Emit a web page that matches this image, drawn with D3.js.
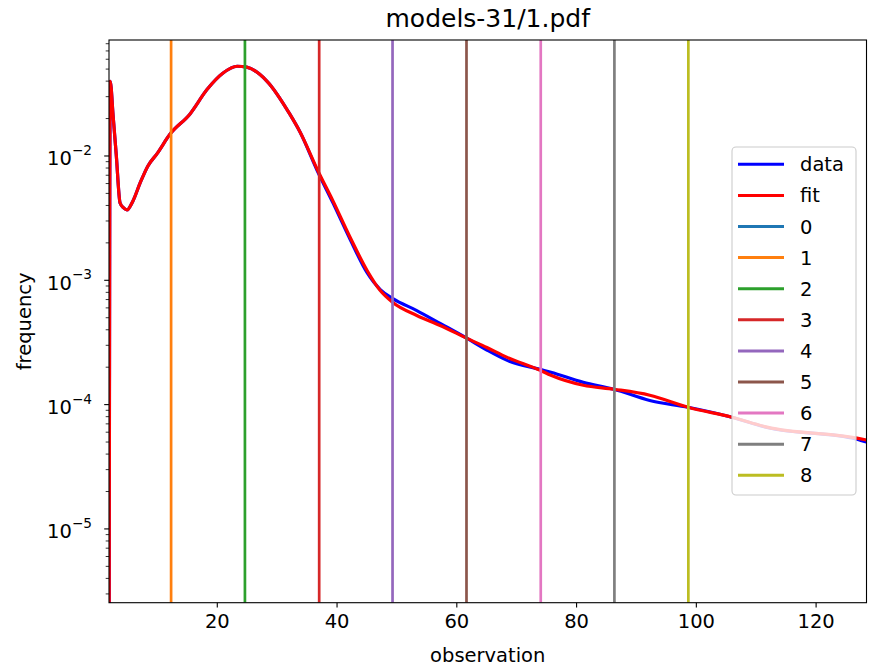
<!DOCTYPE html>
<html lang="en">
<head>
  <meta charset="UTF-8">
  <title>models-31/1.pdf</title>
  <style>
    body { margin: 0; background: #fff; }
    text { font-family: "DejaVu Sans", sans-serif; fill: #000; }
  </style>
</head>
<body>
  <script src="https://cdn.jsdelivr.net/npm/d3@7/dist/d3.min.js"></script>
  <script>
    // observation grid and the two curves
    var observation = [2.0, 2.2, 2.7, 3.2, 3.85, 4.45, 5.0, 6.0, 7.2, 8.5, 10.0, 12.2, 15.5, 18.4, 21.0, 23.4,
      25.0, 28.4, 32.2, 33.9, 36.9, 39.4, 42.3, 45.1, 47.3, 49.4, 53.4, 57.3, 61.8, 65.1, 68.5,
      74.0, 75.8, 81.2, 86.3, 92.3, 98.7, 106.0, 111.9, 126.9, 128.5];
    var dataValues = [1e-7, 0.0399, 0.0206, 0.0104, 0.00419, 0.00382, 0.00368, 0.00435, 0.00607, 0.00832, 0.0104,
      0.0150, 0.0217, 0.0344, 0.0463, 0.0527, 0.0518, 0.0399, 0.0217, 0.0156, 0.00740, 0.00420, 0.00212,
      0.00115, 0.000841, 0.000713, 0.000571, 0.000450, 0.000341, 0.000275, 0.000227,
      0.000192, 0.000182, 0.000151, 0.000133, 0.000108, 0.0000952, 0.0000792, 0.0000655, 0.0000528, 0.0000500];
    var fitValues = [1e-7, 0.0399, 0.0206, 0.0104, 0.00419, 0.00382, 0.00368, 0.00435, 0.00607, 0.00832, 0.0104,
      0.0150, 0.0217, 0.0344, 0.0463, 0.0527, 0.0518, 0.0399, 0.0217, 0.0156, 0.00758, 0.00435, 0.00220,
      0.00120, 0.000826, 0.000662, 0.000521, 0.000433, 0.000341, 0.000288, 0.000240,
      0.000189, 0.000172, 0.000143, 0.000133, 0.000119, 0.0000952, 0.0000792, 0.0000659, 0.0000538, 0.0000519];

    // vertical marker lines 0..8
    var markerNames = ["0", "1", "2", "3", "4", "5", "6", "7", "8"];
    var markerX = [0, 12.37, 24.7, 37.1, 49.35, 61.7, 74.1, 86.4, 98.75];
    var markerColors = ["#1f77b4", "#ff7f0e", "#2ca02c", "#d62728", "#9467bd",
      "#8c564b", "#e377c2", "#7f7f7f", "#bcbd22"];

    var xTicks = [20, 40, 60, 80, 100, 120];
    var yTicks = [1e-2, 1e-3, 1e-4, 1e-5];
    var yTickExp = ["\u22122", "\u22123", "\u22124", "\u22125"];

    var width = 872, height = 667;
    var pLeft = 109, pRight = 866.5, pTop = 40, pBottom = 602.7;
    var fs = 19.5;

    var svg = d3.select("body").append("svg")
      .attr("width", width)
      .attr("height", height);

    var x = d3.scaleLinear().domain([2.0, 128.5]).range([pLeft, pRight]);
    var y = d3.scaleLog().domain([2.55e-6, 0.0857]).range([pBottom, pTop]);

    svg.append("clipPath").attr("id", "plot")
      .append("rect")
      .attr("x", pLeft).attr("y", pTop)
      .attr("width", pRight - pLeft).attr("height", pBottom - pTop);

    var plot = svg.append("g").attr("clip-path", "url(#plot)");

    var line = d3.line()
      .x(function (d) { return x(d[0]); })
      .y(function (d) { return y(d[1]); })
      .curve(d3.curveMonotoneX);

    plot.append("path")
      .attr("d", line(observation.map(function (o, i) { return [o, dataValues[i]]; })))
      .attr("fill", "none").attr("stroke", "#0000ff").attr("stroke-width", 3.2)
      .attr("stroke-linejoin", "round");
    plot.append("path")
      .attr("d", line(observation.map(function (o, i) { return [o, fitValues[i]]; })))
      .attr("fill", "none").attr("stroke", "#ff0000").attr("stroke-width", 3.2)
      .attr("stroke-linejoin", "round");

    plot.selectAll("line.marker")
      .data(markerX)
      .enter().append("line")
      .attr("class", "marker")
      .attr("x1", function (d) { return x(d); })
      .attr("x2", function (d) { return x(d); })
      .attr("y1", pTop).attr("y2", pBottom)
      .attr("stroke", function (d, i) { return markerColors[i]; })
      .attr("stroke-width", 2.7);

    // x axis
    var xAxis = svg.append("g")
      .attr("transform", "translate(0," + pBottom + ")")
      .call(d3.axisBottom(x).tickValues(xTicks).tickSize(4.8).tickPadding(6.5));
    xAxis.select(".domain").remove();
    xAxis.selectAll("line").attr("stroke", "#000").attr("stroke-width", 1.1);
    xAxis.selectAll("text").attr("font-size", fs).attr("font-family", "DejaVu Sans");

    // y axis (log): major ticks with mathtext-like labels, minor ticks 2..9
    var minor = [];
    for (var e = -6; e <= -1; e++) {
      for (var m = 2; m <= 9; m++) {
        var v = m * Math.pow(10, e);
        if (v >= y.domain()[0] && v <= y.domain()[1]) minor.push(v);
      }
    }
    svg.selectAll("line.minor")
      .data(minor)
      .enter().append("line")
      .attr("class", "minor")
      .attr("x1", pLeft - 3.3).attr("x2", pLeft)
      .attr("y1", function (d) { return y(d); })
      .attr("y2", function (d) { return y(d); })
      .attr("stroke", "#000").attr("stroke-width", 0.8);
    svg.selectAll("line.major")
      .data(yTicks)
      .enter().append("line")
      .attr("class", "major")
      .attr("x1", pLeft - 4.8).attr("x2", pLeft)
      .attr("y1", function (d) { return y(d); })
      .attr("y2", function (d) { return y(d); })
      .attr("stroke", "#000").attr("stroke-width", 1.1);
    var yl = svg.selectAll("text.ylab")
      .data(yTicks)
      .enter().append("text")
      .attr("class", "ylab")
      .attr("x", 92)
      .attr("y", function (d) { return y(d) + 9.5; })
      .attr("text-anchor", "end")
      .attr("font-size", fs);
    yl.append("tspan").text("10");
    yl.append("tspan")
      .attr("font-size", fs * 0.7)
      .attr("dy", -10.5)
      .text(function (d, i) { return yTickExp[i]; });

    // frame
    svg.append("rect")
      .attr("x", pLeft).attr("y", pTop)
      .attr("width", pRight - pLeft).attr("height", pBottom - pTop)
      .attr("fill", "none").attr("stroke", "#000").attr("stroke-width", 1.1);

    // labels
    svg.append("text")
      .attr("x", (pLeft + pRight) / 2).attr("y", 27)
      .attr("text-anchor", "middle").attr("font-size", 25)
      .text("models-31/1.pdf");
    svg.append("text")
      .attr("x", (pLeft + pRight) / 2).attr("y", 662)
      .attr("text-anchor", "middle").attr("font-size", fs)
      .text("observation");
    svg.append("text")
      .attr("transform", "translate(31," + ((pTop + pBottom) / 2) + ") rotate(-90)")
      .attr("text-anchor", "middle").attr("font-size", fs)
      .text("frequency");

    // legend
    var legendNames = ["data", "fit"].concat(markerNames);
    var legendColors = ["#0000ff", "#ff0000"].concat(markerColors);
    svg.append("rect")
      .attr("x", 732).attr("y", 147)
      .attr("width", 124).attr("height", 348)
      .attr("rx", 4).attr("ry", 4)
      .attr("fill", "#fff").attr("fill-opacity", 0.8)
      .attr("stroke", "#cccccc").attr("stroke-width", 1.1);
    var items = svg.selectAll("g.item")
      .data(legendNames)
      .enter().append("g")
      .attr("class", "item")
      .attr("transform", function (d, i) { return "translate(0," + (164.3 + i * 31.1) + ")"; });
    items.append("line")
      .attr("x1", 738).attr("x2", 784)
      .attr("stroke", function (d, i) { return legendColors[i]; })
      .attr("stroke-width", 3);
    items.append("text")
      .attr("x", 800).attr("y", 7)
      .attr("font-size", fs)
      .text(function (d) { return d; });
  </script>
</body>
</html>
